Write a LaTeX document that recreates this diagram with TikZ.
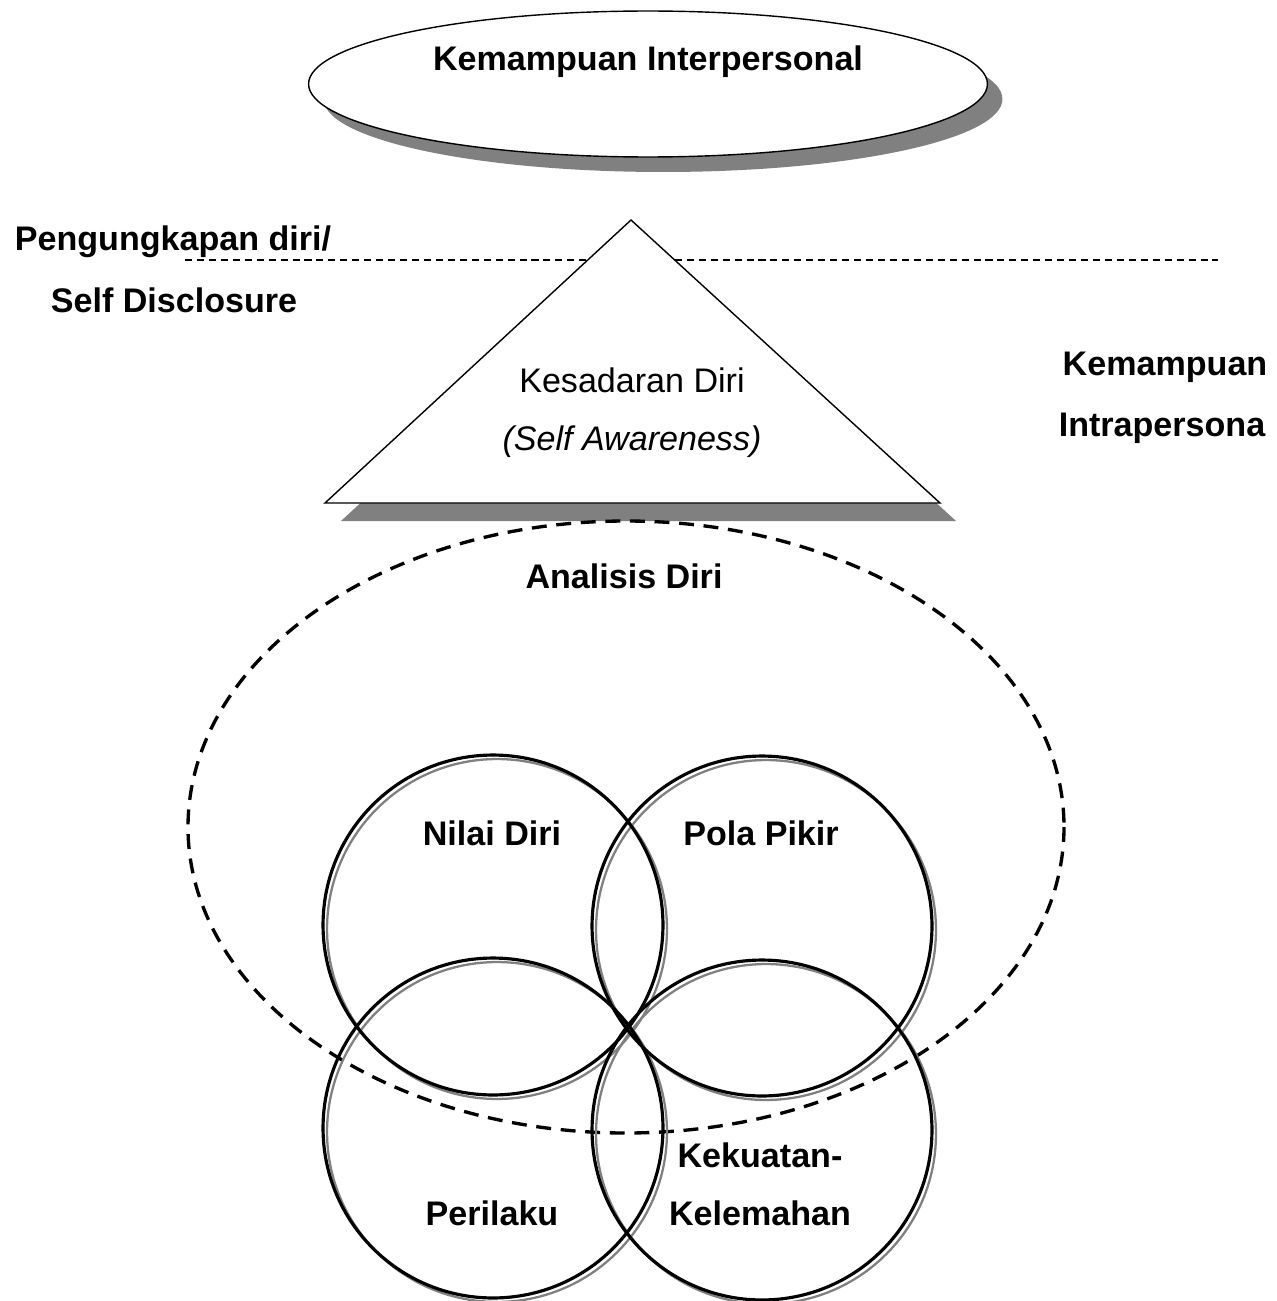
\documentclass[tikz,border=0pt]{standalone}
\usepackage{fontspec}
\setmainfont{Liberation Sans}
\usetikzlibrary{shapes.geometric,calc}

\tikzset{
    lbl/.style={font=\fontsize{19.4}{23}\selectfont\bfseries, inner sep=0pt},
    txt/.style={font=\fontsize{19.4}{23}\selectfont, inner sep=0pt},
    shade/.style={fill=black!50, draw=none},
    ring/.style={circle, draw, line width=1.8pt, minimum size=6.8cm, inner sep=0pt},
    ringshade/.style={circle, draw=black!50, line width=1.3pt, minimum size=6.8cm, inner sep=0pt}
}

\begin{document}
\begin{tikzpicture}[x=0.02cm, y=-0.02cm]

                    \useasboundingbox (0,0) rectangle (1276,1301);

                    % top ellipse
                    \node[ellipse, shade, minimum width=13.58cm, minimum height=2.92cm] (intershade) at (663,99) {};
                    \node[ellipse, draw, fill=white, line width=0.8pt, minimum width=13.58cm, minimum height=2.92cm] (inter) at (648,84) {};
                    \node[lbl] (interlbl) at (648,62) {Kemampuan Interpersonal};

                    % disclosure line
                    \coordinate (dl) at (185,260);
                    \coordinate (dr) at (1218,260);
                    \draw[line width=0.6pt, dash pattern=on 4pt off 2.8pt] (dl) -- (dr);
                    \node[lbl] (peng) at (173,242) {Pengungkapan diri/};
                    \node[lbl] (selfdis) at (174,300) {Self Disclosure};

                    % triangle
                    \coordinate (apex) at (631,220);
                    \coordinate (bl) at (325,503);
                    \coordinate (br) at (940,503);
                    \fill[shade] ($(apex)+(16,18)$) -- ($(bl)+(16,18)$) -- ($(br)+(16,18)$) -- cycle;
                    \filldraw[fill=white, line width=0.8pt] (apex) -- (bl) -- (br) -- cycle;
                    \node[txt] (kesadaran) at (632,380) {Kesadaran Diri};
                    \node[txt] (aware) at (632,442) {\itshape (Self Awareness)};

                    % right labels
                    \node[lbl] (kemampuan) at (1165,367) {Kemampuan};
                    \node[lbl] (intra) at (1162,428) {Intrapersona};

                    % analisis diri
                    \draw[line width=1.9pt, dash pattern=on 8.5pt off 5.5pt] (626,827) ellipse [x radius=438, y radius=306];
                    \node[lbl] (analisis) at (624,576) {Analisis Diri};

                    % circles
                    \foreach \name/\cx/\cy in {nilai/493/925, pola/762/926, perilaku/493/1128, kekuatan/762/1130}{
                        \node[ringshade] (\name shade) at (\cx+4,\cy+4) {};
                    }
                    \foreach \name/\cx/\cy in {nilai/493/925, pola/762/926, perilaku/493/1128, kekuatan/762/1130}{
                        \node[ring] (\name) at (\cx,\cy) {};
                    }
                    \node[lbl] (nilailbl) at (492,833) {Nilai Diri};
                    \node[lbl] (polalbl) at (761,833) {Pola Pikir};
                    \node[lbl] (perilakulbl) at (492,1213) {Perilaku};
                    \node[lbl] (kekuatanlbl) at (760,1155) {Kekuatan-};
                    \node[lbl] (kelemahanlbl) at (760,1213) {Kelemahan};

\end{tikzpicture}
\end{document}
